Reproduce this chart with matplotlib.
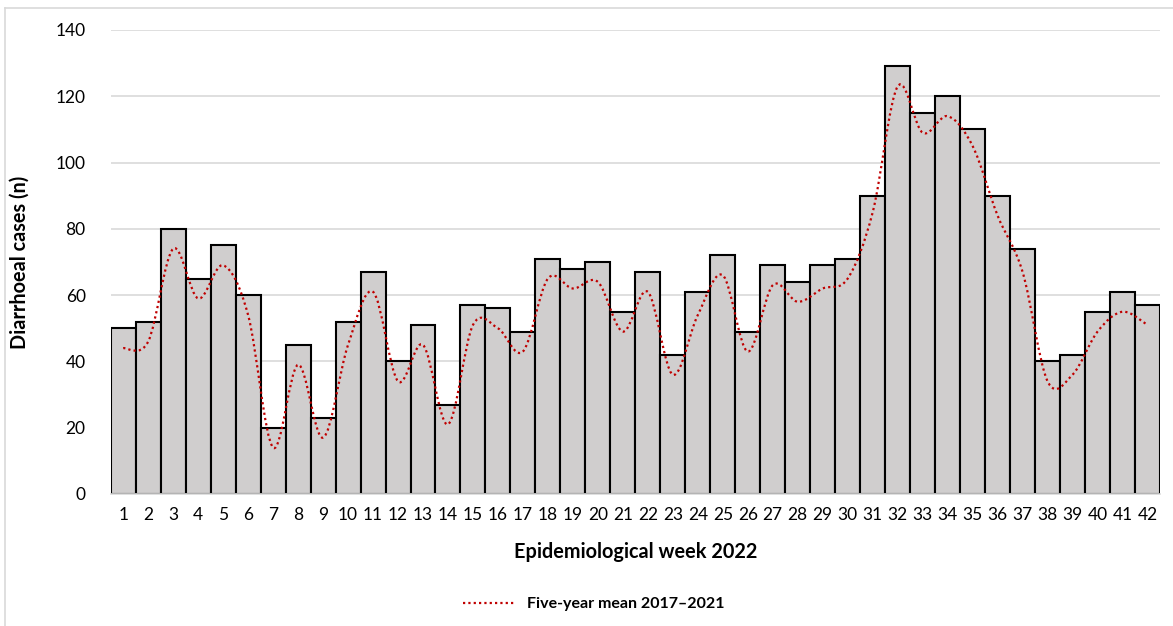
import numpy as np
import matplotlib
matplotlib.use("Agg")
import matplotlib.pyplot as plt
from matplotlib.path import Path
from matplotlib.patches import PathPatch
from matplotlib.lines import Line2D

# data
weeks = list(range(1, 43))
cases = [50, 52, 80, 65, 75, 60, 20, 45, 23, 52, 67, 40, 51, 27, 57, 56, 49, 71, 68, 70, 55,
         67, 42, 61, 72, 49, 69, 64, 69, 71, 90, 129, 115, 120, 110, 90, 74, 40, 42, 55, 61, 57]
mean_5y = [44, 46, 74, 59, 69, 54, 14, 39, 17, 45, 61, 34, 45, 21, 51, 50, 43, 65, 62, 64, 49,
           61, 36, 54, 66, 43, 63, 58, 62, 65, 85, 123, 109, 114, 105, 84, 67, 34, 36, 49, 55, 51]
y_ticks = [0, 20, 40, 60, 80, 100, 120, 140]

BAR_FILL = "#d0cece"
LINE_RED = "#c00000"
GRID = "#d9d9d9"

plt.rcParams["font.family"] = ["Lato", "DejaVu Sans"]

fig = plt.figure(figsize=(11.73, 6.26), dpi=100)
ax = fig.add_axes([110.7 / 1173, 132 / 626, (1160 - 110.7) / 1173, 464 / 626])

ax.bar(weeks, cases, width=1.0, color=BAR_FILL, edgecolor="black", linewidth=1.5, zorder=2)


def smooth_path(x, y):
    # cubic bezier through the points (Excel-style smoothed line)
    pts = np.column_stack([x, y]).astype(float)
    n = len(pts)
    verts = [pts[0]]
    codes = [Path.MOVETO]
    for i in range(n - 1):
        p0 = pts[i - 1] if i > 0 else pts[i]
        p1 = pts[i]
        p2 = pts[i + 1]
        p3 = pts[i + 2] if i + 2 < n else pts[i + 1]
        c1 = p1 + (p2 - p0) / 6.0
        c2 = p2 - (p3 - p1) / 6.0
        verts += [c1, c2, p2]
        codes += [Path.CURVE4] * 3
    return Path(verts, codes)


patch = PathPatch(smooth_path(weeks, mean_5y), fill=False, edgecolor=LINE_RED,
                  linewidth=1.6, linestyle=(0, (1, 1.4)), zorder=3)
ax.add_patch(patch)

ax.set_xlim(0.5, 42.5)
ax.set_ylim(0, 140)
ax.set_yticks(y_ticks)
ax.set_xticks(weeks)
ax.yaxis.grid(True, color=GRID, linewidth=1.2, zorder=0)
ax.set_axisbelow(True)
for s in ["top", "right", "left"]:
    ax.spines[s].set_visible(False)
ax.spines["bottom"].set_color(GRID)
ax.spines["bottom"].set_linewidth(1.2)
ax.tick_params(axis="both", length=0, labelsize=12.5, colors="black")
ax.tick_params(axis="y", pad=18)
ax.tick_params(axis="x", pad=9)

ax.set_xlabel("Epidemiological week 2022", fontsize=14.3, fontweight="bold", labelpad=14)
ax.set_ylabel("Diarrhoeal cases (n)", fontsize=14.3, fontweight="bold", labelpad=19)

handle = Line2D([], [], color=LINE_RED, linewidth=1.6, linestyle=(0, (1, 1.4)))
fig.legend([handle], ["Five-year mean 2017\u20132021"], loc="center",
           bbox_to_anchor=(594 / 1173, 1 - 604 / 626), frameon=False,
           prop={"size": 11.5, "weight": "bold"}, handlelength=3.2)

# outer chart frame
fig.add_artist(Line2D([5 / 1173, 1], [1 - 8 / 626, 1 - 8 / 626], color="#d9d9d9", linewidth=1.2))
fig.add_artist(Line2D([5 / 1173, 5 / 1173], [0, 1 - 8 / 626], color="#d9d9d9", linewidth=1.2))

fig.savefig("out.png", dpi=100)
